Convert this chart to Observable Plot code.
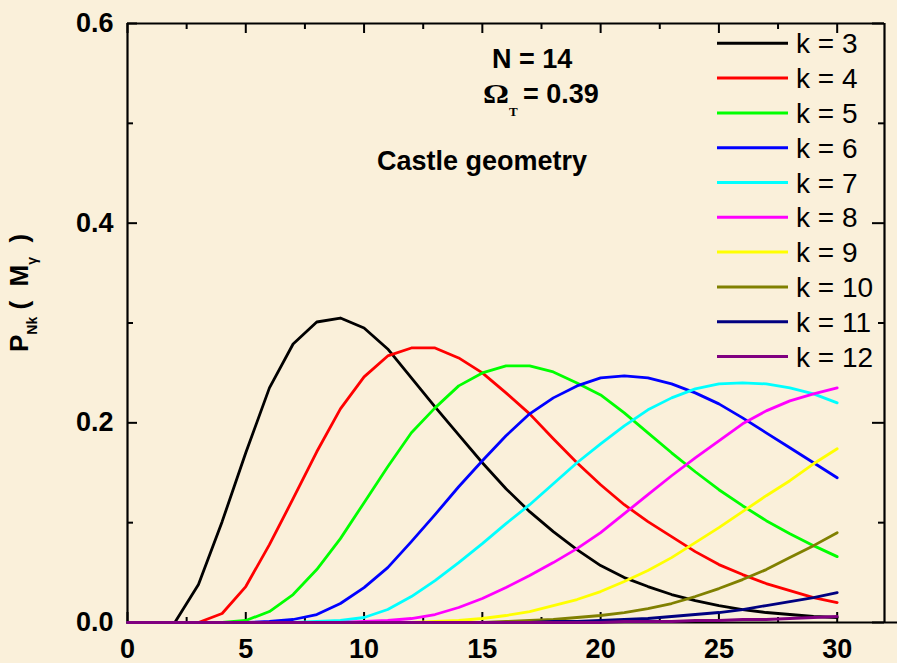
<!DOCTYPE html>
<html>
<head>
<meta charset="utf-8">
<style>
  html, body { margin: 0; padding: 0; background: #FAF0DA; }
  #chart svg { display: block; }
</style>
<script src="https://cdn.jsdelivr.net/npm/d3@7"></script>
<script src="https://cdn.jsdelivr.net/npm/@observablehq/plot@0.6"></script>
</head>
<body>
<div id="chart"></div>
<script>
// Number of γ photons M_γ (x) and the probability P_Nk(M_γ) for each cluster size k
const mGamma = d3.range(0, 31);

const pK3  = [0, 0, 0, 0.038, 0.101, 0.170, 0.235, 0.279, 0.301, 0.305, 0.295, 0.274, 0.245, 0.216, 0.188, 0.160, 0.134, 0.111, 0.091, 0.073, 0.057, 0.045, 0.036, 0.028, 0.022, 0.017, 0.013, 0.010, 0.008, 0.006, 0.005];
const pK4  = [0, 0, 0, 0, 0.009, 0.036, 0.078, 0.124, 0.171, 0.214, 0.246, 0.267, 0.275, 0.275, 0.265, 0.250, 0.230, 0.209, 0.184, 0.160, 0.138, 0.118, 0.101, 0.086, 0.071, 0.058, 0.048, 0.039, 0.032, 0.025, 0.020];
const pK5  = [0, 0, 0, 0, 0, 0.002, 0.011, 0.028, 0.053, 0.084, 0.120, 0.156, 0.190, 0.215, 0.237, 0.250, 0.257, 0.257, 0.251, 0.240, 0.228, 0.210, 0.190, 0.170, 0.151, 0.133, 0.117, 0.102, 0.089, 0.077, 0.066];
const pK6  = [0, 0, 0, 0, 0, 0, 0.001, 0.003, 0.008, 0.019, 0.035, 0.055, 0.081, 0.108, 0.136, 0.162, 0.187, 0.209, 0.225, 0.237, 0.245, 0.247, 0.245, 0.239, 0.230, 0.219, 0.205, 0.190, 0.175, 0.160, 0.145];
const pK7  = [0, 0, 0, 0, 0, 0, 0, 0, 0.001, 0.002, 0.005, 0.013, 0.026, 0.042, 0.060, 0.079, 0.099, 0.118, 0.139, 0.160, 0.179, 0.197, 0.213, 0.225, 0.234, 0.239, 0.240, 0.239, 0.235, 0.229, 0.220];
const pK8  = [0, 0, 0, 0, 0, 0, 0, 0, 0, 0, 0.001, 0.002, 0.004, 0.008, 0.015, 0.024, 0.035, 0.047, 0.060, 0.074, 0.090, 0.109, 0.128, 0.147, 0.165, 0.182, 0.199, 0.212, 0.222, 0.229, 0.235];
const pK9  = [0, 0, 0, 0, 0, 0, 0, 0, 0, 0, 0, 0, 0, 0.001, 0.002, 0.004, 0.007, 0.011, 0.017, 0.023, 0.031, 0.041, 0.052, 0.065, 0.080, 0.095, 0.111, 0.127, 0.142, 0.159, 0.174];
const pK10 = [0, 0, 0, 0, 0, 0, 0, 0, 0, 0, 0, 0, 0, 0, 0, 0, 0.001, 0.002, 0.003, 0.005, 0.007, 0.010, 0.014, 0.019, 0.026, 0.034, 0.043, 0.053, 0.065, 0.077, 0.090];
const pK11 = [0, 0, 0, 0, 0, 0, 0, 0, 0, 0, 0, 0, 0, 0, 0, 0, 0, 0, 0.001, 0.001, 0.002, 0.003, 0.004, 0.006, 0.008, 0.010, 0.013, 0.017, 0.021, 0.025, 0.030];
const pK12 = [0, 0, 0, 0, 0, 0, 0, 0, 0, 0, 0, 0, 0, 0, 0, 0, 0, 0, 0, 0, 0, 0.001, 0.001, 0.001, 0.002, 0.002, 0.003, 0.003, 0.004, 0.005, 0.006];

const kValues = [3, 4, 5, 6, 7, 8, 9, 10, 11, 12];
const kSeries = [pK3, pK4, pK5, pK6, pK7, pK8, pK9, pK10, pK11, pK12];
const kColors = ["#000000", "#FF0000", "#00FF00", "#0000FF", "#00FFFF", "#FF00FF", "#FFFF00", "#808000", "#000080", "#800080"];

// Axis ticks
const xMajor = [0, 5, 10, 15, 20, 25, 30];
const xMinor = [2.5, 7.5, 12.5, 17.5, 22.5, 27.5];
const yMajor = [0, 0.2, 0.4, 0.6];
const yMinor = [0.1, 0.3, 0.5];

// Long-format table for the line mark
const rows = kValues.flatMap((k, i) => mGamma.map((m, j) => ({k, m, p: kSeries[i][j]})));

const W = 897, H = 663;
const mL = 127, mR = 13, mT = 23, mB = 41;
const innerW = W - mL - mR, innerH = H - mT - mB;
const sans = "'Liberation Sans', Arial, Helvetica, sans-serif";
const serif = "'Liberation Serif', 'Times New Roman', serif";
const spine = 2.2, tickW = 2;

const plot = Plot.plot({
  width: W,
  height: H,
  marginLeft: mL, marginRight: mR, marginTop: mT, marginBottom: mB,
  style: {background: "#FAF0DA", fontFamily: sans, color: "black", overflow: "visible"},
  x: {domain: [0, 32]},
  y: {domain: [0, 0.6]},
  color: {type: "ordinal", domain: kValues, range: kColors},
  marks: [
    Plot.axisX(xMajor, {anchor: "bottom", tickSize: 0, tickPadding: 16, fontSize: 27, fontWeight: "bold", label: null}),
    Plot.axisY(yMajor, {anchor: "left", tickSize: 0, tickPadding: 14, fontSize: 27, fontWeight: "bold", tickFormat: d3.format(".1f"), label: null}),
    // inward ticks on all four sides
    Plot.tickX(xMajor, {x: d => d, insetTop: innerH - 10, strokeWidth: tickW}),
    Plot.tickX(xMajor, {x: d => d, insetBottom: innerH - 10, strokeWidth: tickW}),
    Plot.tickX(xMinor, {x: d => d, insetTop: innerH - 5, strokeWidth: tickW}),
    Plot.tickX(xMinor, {x: d => d, insetBottom: innerH - 6, strokeWidth: tickW}),
    Plot.tickY(yMajor, {y: d => d, insetRight: innerW - 10, strokeWidth: tickW}),
    Plot.tickY(yMajor, {y: d => d, insetLeft: innerW - 12, strokeWidth: tickW}),
    Plot.tickY(yMinor, {y: d => d, insetRight: innerW - 6, strokeWidth: tickW}),
    Plot.tickY(yMinor, {y: d => d, insetLeft: innerW - 6, strokeWidth: tickW}),
    // frame
    Plot.ruleX([0], {strokeWidth: spine}),
    Plot.ruleX([32], {strokeWidth: spine}),
    Plot.ruleY([0.6], {strokeWidth: spine}),
    Plot.ruleY([0], {x1: 0, x2: 32.6, strokeWidth: spine}),
    // curves
    Plot.lineY(rows, {x: "m", y: "p", z: "k", stroke: "k", strokeWidth: 2.8, strokeLinejoin: "round"})
  ]
});

document.getElementById("chart").appendChild(plot);
const svg = d3.select(plot);

// Y axis title: P_Nk ( M_γ )
const yTitle = svg.append("text")
  .attr("transform", "translate(28,352) rotate(-90)")
  .attr("text-anchor", "start")
  .attr("font-family", sans).attr("font-weight", "bold").attr("font-size", 26)
  .style("white-space", "pre").attr("fill", "black");
yTitle.append("tspan").text("P");
yTitle.append("tspan").attr("font-size", 14).attr("dy", 9).text("Nk");
yTitle.append("tspan").attr("dy", -9).text(" (  M");
yTitle.append("tspan").attr("font-size", 14).attr("dy", 9).text("γ");
yTitle.append("tspan").attr("dy", -9).text("  )");

// Annotations
const ann = svg.append("g").attr("font-family", sans).attr("font-weight", "bold")
  .attr("fill", "black").attr("font-size", 27).attr("text-anchor", "start");
ann.append("text").attr("x", 492).attr("y", 68).text("N = 14");
ann.append("text").attr("transform", "translate(483,103) scale(1.2,1)")
  .attr("font-family", serif).attr("font-size", 27).text("Ω");
ann.append("text").attr("x", 509).attr("y", 116).attr("font-family", serif).attr("font-size", 13).text("T");
ann.append("text").attr("x", 523).attr("y", 103).text("= 0.39");
ann.append("text").attr("x", 587).attr("y", 170).attr("text-anchor", "end").text("Castle geometry");

// Legend
const legend = svg.append("g").attr("font-family", sans).attr("font-size", 28)
  .attr("fill", "black").attr("text-anchor", "start");
kValues.forEach((k, i) => {
  const y = 43.3 + i * 34.8;
  legend.append("line").attr("x1", 717).attr("x2", 788).attr("y1", y).attr("y2", y)
    .attr("stroke", kColors[i]).attr("stroke-width", 3);
  legend.append("text").attr("x", 796).attr("y", y + 10).text(`k = ${k}`);
});
</script>
</body>
</html>
